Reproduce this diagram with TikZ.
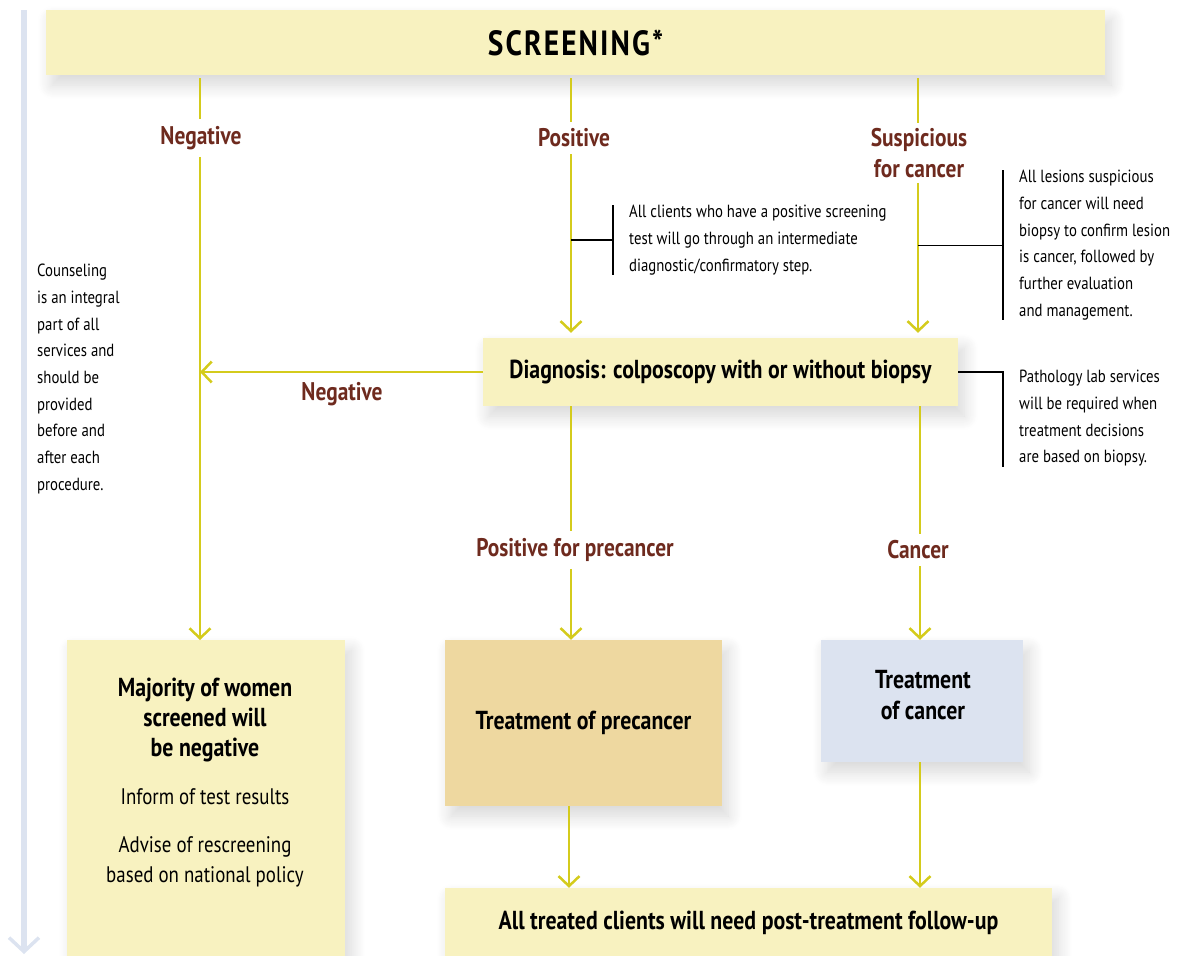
\documentclass[tikz,border=0pt]{standalone}
\usepackage{fontspec}
\setmainfont{PT Sans}[FakeStretch=0.84]
\usetikzlibrary{arrows.meta,positioning,shadows.blur}

\definecolor{paleyellow}{HTML}{F8F2C0}
\definecolor{tanbox}{HTML}{EED8A0}
\definecolor{paleblue}{HTML}{DCE3F0}
\definecolor{flowline}{HTML}{D4CB1C}
\definecolor{labelred}{HTML}{6E2A1E}

\newcommand\screenfont{\fontsize{35}{40}\selectfont\bfseries\addfontfeatures{LetterSpace=6}}
\newcommand\boxfont{\fontsize{26}{31}\selectfont\bfseries}
\newcommand\notefont{\fontsize{17.6}{26.7}\selectfont}

\tikzset{
    box/.style={fill=paleyellow, inner sep=0pt, align=center, font=\boxfont,
        blur shadow={shadow xshift=6pt, shadow yshift=-10pt, shadow opacity=16,
            shadow blur radius=14pt, shadow blur steps=14}},
    branch/.style={text=labelred, font=\fontsize{25.5}{31}\selectfont\bfseries, align=center, inner sep=7pt},
    note/.style={font=\notefont, align=left, inner xsep=16pt, inner ysep=0pt},
    link/.style={draw=flowline, line width=2.5pt},
    flow/.style={link, -{Straight Barb[length=10pt,width=21pt,line width=2.5pt]}},
    callout/.style={draw=black, line width=1.1pt}
}

\begin{document}
\begin{tikzpicture}[x=1pt,y=-1pt]
    \useasboundingbox (0,0) rectangle (1184,956);

    % counseling runs through the whole pathway
    \coordinate (bartop) at (24,10);
    \coordinate (barend) at (24,954);
    \draw[paleblue, line width=6pt, -{Straight Barb[length=14pt,width=30pt,line width=3.5pt]}] (bartop) -- (barend);

    % line positions
    \coordinate (xl) at (200,0);
    \coordinate (xm) at (571,0);
    \coordinate (xr) at (918,0);
    \coordinate (xm2) at (569,0);
    \coordinate (xr2) at (920,0);

    % boxes
    \node[box, minimum width=1059, minimum height=65, font=\screenfont] (screen) at (575.5,42.5) {SCREENING*};
    \node[box, minimum width=475, minimum height=68] (diag) at (720.5,372) {Diagnosis: colposcopy with or without biopsy};
    \node[box, anchor=north west, minimum width=278, minimum height=330] (majority) at (67,640) {};
    \node[align=center, anchor=north, font=\fontsize{22.5}{30}\selectfont, inner sep=0pt] (majtext) at (205,678)
        {\textbf{\boxfont Majority of women}\\
         \textbf{\boxfont screened will}\\
         \textbf{\boxfont be negative}\\[18pt]
         Inform of test results\\[18pt]
         Advise of rescreening\\
         based on national policy};
    \node[box, fill=tanbox, minimum width=277, minimum height=166] (precancer) at (583.5,723) {Treatment of precancer};
    \node[box, fill=paleblue, minimum width=202, minimum height=122] (cancer) at (922,701) {};
    \node[align=center, font=\boxfont, inner sep=0pt] (canctext) at (923,695) {Treatment\\of cancer};
    \node[box, minimum width=607, minimum height=70] (followup) at (748.5,923) {All treated clients will need post-treatment follow-up};

    % branch labels
    \node[branch] (neg) at (201,138) {Negative};
    \node[branch] (pos) at (574,138) {Positive};
    \node[branch, inner ysep=5pt] (susp) at (919,153) {Suspicious\\for cancer};
    \node[branch] (negdiag) at (342,394) {Negative};
    \node[branch] (preclab) at (575,550) {Positive for precancer};
    \node[branch] (canclab) at (918,550) {Cancer};

    % connectors
    \draw[link, shorten <=3pt] (screen.south -| xl) -- (neg.north -| xl);
    \draw[flow] (neg.south -| xl) -- (majority.north -| xl);
    \draw[link, shorten <=3pt] (screen.south -| xm) -- (pos.north -| xm);
    \draw[flow, shorten >=5pt] (pos.south -| xm) -- (diag.north -| xm);
    \draw[link, shorten <=3pt] (screen.south -| xr) -- (susp.north -| xr);
    \draw[flow, shorten >=5pt] (susp.south -| xr) -- (diag.north -| xr);
    \draw[flow] (diag.west) -- (diag.west -| xl);
    \draw[link] (diag.south -| xm) -- (preclab.north -| xm);
    \draw[flow] (preclab.south -| xm) -- (precancer.north -| xm);
    \draw[link] (diag.south -| xr2) -- (canclab.north -| xr2);
    \draw[flow] (canclab.south -| xr2) -- (cancer.north -| xr2);
    \draw[flow] (precancer.south -| xm2) -- (followup.north -| xm2);
    \draw[flow] (cancer.south -| xr2) -- (followup.north -| xr2);

    % side notes
    \node[note, anchor=north west, inner xsep=0pt] (counsel) at (37,264)
        {Counseling\\is an integral\\part of all\\services and\\should be\\provided\\before and\\after each\\procedure.};
    \node[note, anchor=north west] (posnote) at (613,205)
        {All clients who have a positive screening\\test will go through an intermediate\\diagnostic/confirmatory step.};
    \node[note, anchor=north west] (suspnote) at (1003,170)
        {All lesions suspicious\\for cancer will need\\biopsy to confirm lesion\\is cancer, followed by\\further evaluation\\and management.};
    \node[note, anchor=north west] (pathnote) at (1003,370)
        {Pathology lab services\\will be required when\\treatment decisions\\are based on biopsy.};

    \draw[callout] (posnote.north west) -- (posnote.south west);
    \draw[callout] (posnote.west -| xm) -- (posnote.west);
    \draw[callout] (suspnote.north west) -- (suspnote.south west);
    \draw[callout] (suspnote.west -| xr) -- (suspnote.west);
    \draw[callout] (diag.east) -- (diag.east -| pathnote.west) -- (pathnote.south west);
\end{tikzpicture}
\end{document}
